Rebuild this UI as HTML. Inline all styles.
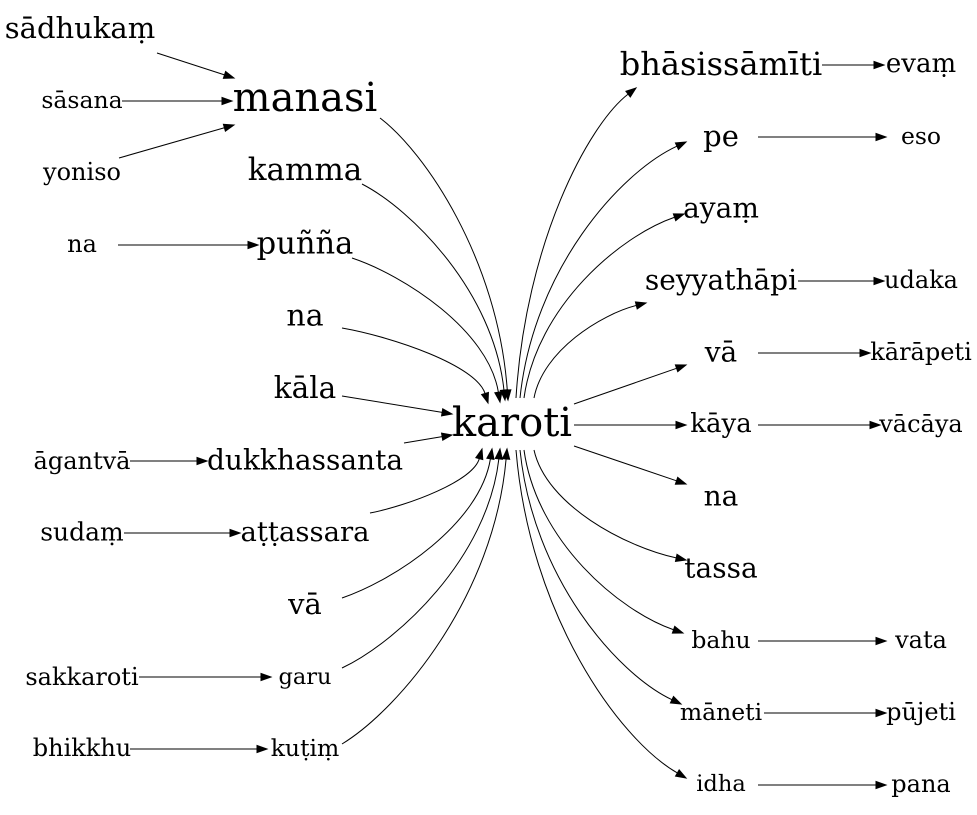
<!DOCTYPE html>
<html><head><meta charset="utf-8">
<style>
html,body{margin:0;padding:0;background:#fff;}
svg{display:block;}
text{font-family:"DejaVu Serif","Liberation Serif",serif;fill:#000;}
</style></head>
<body>
<svg id="g" width="977" height="815" viewBox="0 0 977 815" xmlns="http://www.w3.org/2000/svg"></svg>
<script>
const nodeIds = ["sadhukam","sasana","yoniso","naL","manasi","kamma","punna","na1","kala","agantva","dukkha","sudam","attassara","va1","sakkaroti","garu","bhikkhu","kutim","karoti","bhasis","evam","pe","eso","ayam","seyy","udaka","va2","karapeti","kaya","vacaya","na2","tassa","bahu","vata","maneti","pujeti","idha","pana"];
const nodeLabels = ["sādhukaṃ","sāsana","yoniso","na","manasi","kamma","puñña","na","kāla","āgantvā","dukkhassanta","sudaṃ","aṭṭassara","vā","sakkaroti","garu","bhikkhu","kuṭiṃ","karoti","bhāsissāmīti","evaṃ","pe","eso","ayaṃ","seyyathāpi","udaka","vā","kārāpeti","kāya","vācāya","na","tassa","bahu","vata","māneti","pūjeti","idha","pana"];
const nodeX = [80,82,82,82,305,305,305,305,305,82,305,82,305,305,82,305,82,305,512,721,921,721,921,721,721,921,721,921,721,921,721,721,721,921,721,921,721,921];
const nodeY = [28,100,172,244,98,170,244,316,388,461,460,532,532,604,677,677,748,748,423,64,64,136,136,208,280,280,352,352,424,424,496,568,640,640,712,712,784,784];
const nodeSize = [29,23.5,24,24,40,31,30.5,30,29.5,24,28,25,27.5,29,24,22.5,24,23.5,40,32,26,29,23.5,28,28,24,28,24,26,24,28,28,23.5,24,23.5,24,22.5,24];
const edgeFrom = ["sadhukam","sasana","yoniso","naL","agantva","sudam","sakkaroti","bhikkhu","manasi","kamma","punna","na1","kala","dukkha","attassara","va1","garu","kutim","karoti","karoti","karoti","karoti","karoti","karoti","karoti","karoti","karoti","karoti","karoti","bhasis","pe","seyy","va2","kaya","bahu","maneti","idha"];
const edgeTo = ["manasi","manasi","manasi","punna","dukkha","attassara","garu","kutim","karoti","karoti","karoti","karoti","karoti","karoti","karoti","karoti","karoti","karoti","bhasis","pe","ayam","seyy","va2","kaya","na2","tassa","bahu","maneti","idha","evam","eso","udaka","karapeti","vacaya","vata","pujeti","pana"];
const edgeGeom = [
[157,53,234,78,0],[122,101,232,101,0],[119,158,234,125,0],[118,245,258,245,0],[130,461,207,461,0],[124,533,240,533,0],[139,677,271,677,0],[130,749,267,749,0],
[380,118,508,400,1],[362,184,505,400,1],[352,258,500,402,1],[342,328,488,403,1],[342,396,452,414,0],[404,443,452,435,0],[370,513,482,449,1],[342,598,492,449,1],[342,668,500,449,1],[342,744,507,449,1],
[516,398,636,88,2],[520,398,686,142,2],[524,398,684,214,2],[534,398,646,303,2],[574,404,686,365,0],[574,425,686,425,0],[574,446,686,484,0],[534,450,686,560,2],[524,450,683,633,2],[520,450,681,704,2],[516,450,686,778,2],
[822,65,884,65,0],[758,137,886,137,0],[798,281,884,281,0],[758,353,870,353,0],[758,425,880,425,0],[758,641,886,641,0],[764,713,886,713,0],[758,785,886,785,0]];

const NS="http://www.w3.org/2000/svg";
const svg=document.getElementById('g');
function mk(t,a){const e=document.createElementNS(NS,t);for(const k in a)e.setAttribute(k,a[k]);return e;}
edgeFrom.forEach((f,i)=>{
  const [x1,y1,x2,y2,c]=edgeGeom[i];
  const dx=x2-x1, dy=y2-y1;
  let d, cx2, cy2;
  if(c===1){
    const cx1=x1+0.35*dx, cy1=y1+0.12*dy; cx2=x2-0.08*dx; cy2=y2-0.5*dy;
    d=`M${x1},${y1} C${cx1},${cy1} ${cx2},${cy2} `;
  } else if(c===2){
    const cx1=x1+0.08*dx, cy1=y1+0.5*dy; cx2=x2-0.4*dx; cy2=y2-0.12*dy;
    d=`M${x1},${y1} C${cx1},${cy1} ${cx2},${cy2} `;
  } else { cx2=x1; cy2=y1; d=`M${x1},${y1} L`; }
  let ux=x2-cx2, uy=y2-cy2; const L=Math.hypot(ux,uy)||1; ux/=L; uy/=L;
  const bx=x2-ux*10, by=y2-uy*10;
  const path=mk('path',{d:d+`${bx},${by}`,fill:'none',stroke:'#000','stroke-width':1});
  
  
  svg.appendChild(path);
  const px=-uy, py=ux;
  const head=mk('polygon',{points:`${x2},${y2} ${bx+px*3.6},${by+py*3.6} ${bx-px*3.6},${by-py*3.6}`,fill:'#000',stroke:'#000'});
  
  
  svg.appendChild(head);
});
nodeIds.forEach((id,i)=>{
  const t=mk('text',{x:nodeX[i],y:nodeY[i],'text-anchor':'middle','dominant-baseline':'central','font-size':nodeSize[i]});
  t.textContent=nodeLabels[i];
  
  
  svg.appendChild(t);
});
</script>
</body></html>
